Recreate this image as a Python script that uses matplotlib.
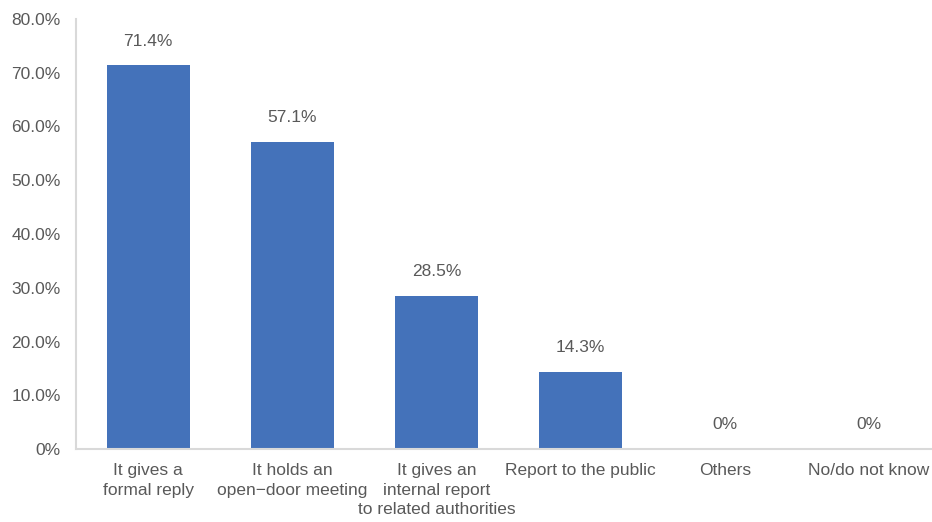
#!/usr/bin/env python3

import matplotlib
matplotlib.use('Agg')
import matplotlib.pyplot as plt
from matplotlib.ticker import FuncFormatter

# data
categories = [
    'It gives a\nformal reply',
    'It holds an\nopen\u2212door meeting',
    'It gives an\ninternal report\nto related authorities',
    'Report to the public',
    'Others',
    'No/do not know',
]
values = [71.4, 57.1, 28.5, 14.3, 0.0, 0.0]
value_labels = ['71.4%', '57.1%', '28.5%', '14.3%', '0%', '0%']

bar_color = '#4472BA'
text_color = '#595959'
axis_color = '#D9D9D9'

plt.rcParams['font.family'] = ['Liberation Sans', 'DejaVu Sans']

fig = plt.figure(figsize=(9.32, 5.22), dpi=100)
W, H = 932.0, 522.0
# axes box in pixels: left 76, right 941 (runs past the edge), bottom 449, top 19
ax = fig.add_axes([76 / W, (H - 449) / H, (932 - 76) / W, (449 - 19) / H])

x = list(range(len(categories)))
ax.bar(x, values, width=0.576, color=bar_color, zorder=2)

for xi, v, lab in zip(x, values, value_labels):
    ax.annotate(lab, (xi, v), xytext=(0, 12), textcoords='offset points',
                ha='center', va='bottom', fontsize=12.5, color=text_color)

ax.set_xlim(-0.5, 5.5 - 9 / 144.0)
ax.set_ylim(0, 80)
ax.set_yticks(range(0, 81, 10))
ax.yaxis.set_major_formatter(FuncFormatter(
    lambda v, p: '0%' if v == 0 else '{:.1f}%'.format(v)))
ax.set_xticks(x)
ax.set_xticklabels(categories, linespacing=1.4)

ax.tick_params(axis='both', length=0, labelsize=12.5, labelcolor=text_color)
ax.tick_params(axis='y', pad=11)
ax.tick_params(axis='x', pad=10)

for s in ['top', 'right']:
    ax.spines[s].set_visible(False)
for s in ['left', 'bottom']:
    ax.spines[s].set_color(axis_color)
    ax.spines[s].set_linewidth(1.5)

fig.savefig('out.png', dpi=100)
